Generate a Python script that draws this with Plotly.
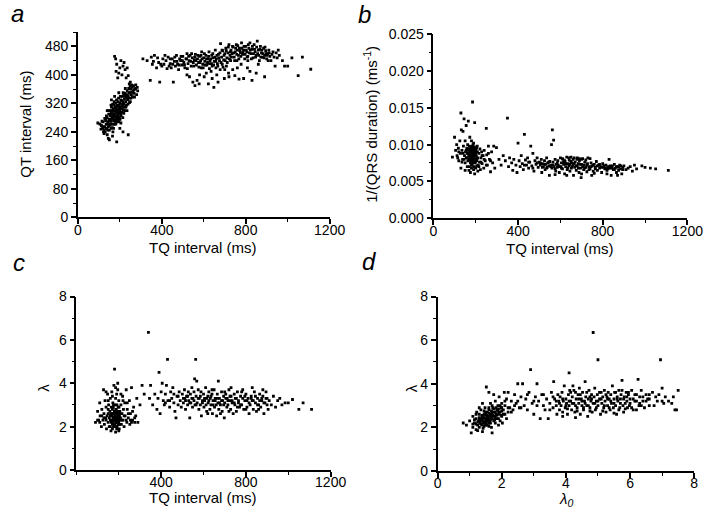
import plotly.graph_objects as go

# panel a: TQ interval (ms) vs QT interval (ms)
tq_qt_a = [
    (105, 262), (112, 258), (118, 250), (120, 268), (125, 245), (128, 255), (130, 240), (132, 272), (135, 262), (138, 250),
    (140, 232), (140, 280), (143, 268), (145, 255), (147, 290), (150, 245), (150, 275), (152, 262), (155, 300), (155, 285),
    (157, 270), (158, 250), (160, 292), (160, 310), (162, 278), (163, 262), (165, 298), (165, 285), (167, 240), (168, 305),
    (170, 272), (170, 290), (172, 315), (173, 282), (175, 298), (175, 262), (177, 308), (178, 288), (180, 275), (180, 320),
    (182, 295), (183, 305), (185, 282), (185, 268), (187, 312), (188, 298), (190, 288), (190, 325), (192, 302), (193, 275),
    (195, 315), (195, 292), (197, 305), (198, 282), (200, 322), (200, 298), (202, 310), (204, 290), (205, 330), (207, 305),
    (208, 318), (210, 295), (212, 340), (213, 312), (215, 325), (217, 302), (218, 345), (220, 318), (222, 332), (224, 310),
    (225, 348), (228, 325), (230, 338), (232, 315), (235, 355), (237, 330), (240, 342), (242, 362), (245, 335), (248, 350),
    (250, 325), (252, 360), (255, 345), (258, 365), (260, 338), (263, 355), (265, 370), (268, 348), (272, 360), (275, 362),
    (280, 345), (285, 355), (145, 222), (150, 218), (165, 228), (185, 212), (215, 240), (240, 232), (200, 250), (170, 250),
    (125, 235), (95, 265), (175, 452), (180, 445), (182, 410), (185, 430), (195, 405), (200, 420), (205, 440), (210, 400),
    (215, 425), (225, 415), (235, 420), (240, 398), (220, 435), (190, 392), (245, 375), (250, 380), (255, 372), (230, 392),
    (110, 248), (115, 270), (120, 255), (122, 240), (128, 278), (133, 250), (136, 285), (140, 262), (142, 245), (146, 300),
    (148, 272), (150, 258), (153, 290), (156, 262), (158, 315), (160, 275), (162, 300), (164, 252), (166, 318), (168, 280),
    (170, 262), (171, 300), (173, 325), (176, 285), (178, 270), (179, 310), (181, 262), (184, 330), (186, 295), (188, 275),
    (189, 315), (191, 280), (194, 335), (196, 268), (198, 310), (199, 292), (201, 275), (203, 340), (206, 285), (209, 328),
    (211, 305), (214, 280), (216, 350), (219, 292), (221, 340), (223, 300), (226, 362), (229, 310), (231, 345), (234, 300),
    (236, 335), (239, 318), (243, 350), (246, 322), (249, 368), (253, 335), (257, 352), (262, 368), (267, 358), (270, 338),
    (276, 372), (283, 365), (160, 330), (175, 340), (195, 350), (140, 300), (205, 265),
    (310, 445), (330, 440), (345, 385), (355, 430), (365, 455), (375, 420), (385, 435), (390, 380), (400, 425), (405, 445),
    (410, 430), (420, 440), (425, 418), (430, 450), (440, 432), (445, 420), (450, 445), (455, 380), (460, 438), (465, 425),
    (470, 455), (475, 430), (480, 415), (485, 445), (490, 440), (495, 428), (500, 452), (505, 435), (510, 420), (515, 445),
    (520, 460), (525, 432), (530, 440), (532, 395), (535, 455), (540, 425), (545, 448), (548, 380), (550, 435), (555, 442),
    (558, 370), (560, 458), (565, 428), (568, 385), (570, 445), (575, 435), (578, 375), (580, 452), (585, 440), (588, 420),
    (590, 465), (595, 430), (600, 448), (602, 395), (605, 438), (610, 455), (612, 405), (615, 428), (620, 445), (622, 375),
    (625, 465), (628, 432), (630, 440), (635, 410), (638, 455), (640, 425), (645, 448), (648, 365), (650, 438), (655, 470),
    (658, 420), (660, 445), (662, 400), (665, 432), (668, 380), (670, 458), (675, 440), (678, 415), (680, 488), (685, 450),
    (688, 430), (690, 468), (695, 442), (698, 390), (700, 460), (705, 475), (708, 425), (710, 448), (715, 462), (718, 405),
    (720, 485), (725, 455), (728, 440), (730, 470), (735, 460), (738, 415), (740, 478), (745, 450), (748, 398), (750, 465),
    (755, 485), (758, 440), (760, 470), (765, 455), (768, 388), (770, 475), (775, 462), (778, 430), (780, 490), (785, 458),
    (790, 470), (795, 445), (800, 480), (805, 465), (808, 420), (810, 452), (815, 475), (820, 490), (825, 460), (830, 472),
    (835, 448), (840, 485), (845, 465), (850, 455), (855, 495), (860, 470), (865, 440), (870, 480), (875, 462), (880, 450),
    (885, 475), (890, 455), (895, 468), (900, 445), (905, 460), (910, 470), (915, 452), (920, 440), (925, 458), (930, 465),
    (935, 450), (940, 425), (945, 462), (950, 448), (955, 470), (960, 455), (975, 440), (985, 425), (1000, 425), (1020, 448),
    (1050, 398), (1070, 450), (1110, 416), (890, 395), (830, 385), (850, 405), (790, 390),
    (440, 445), (452, 430), (462, 450), (472, 438), (482, 428), (492, 452), (498, 440), (508, 428), (518, 445), (522, 418),
    (528, 452), (538, 438), (542, 460), (552, 425), (557, 450), (562, 440), (572, 455), (577, 422), (582, 435), (587, 455),
    (592, 445), (597, 420), (603, 460), (607, 428), (613, 445), (618, 435), (623, 452), (627, 418), (633, 445), (637, 432),
    (643, 460), (647, 428), (653, 450), (657, 438), (663, 455), (667, 425), (672, 448), (677, 462), (682, 435), (687, 470),
    (692, 422), (697, 455), (702, 440), (707, 468), (712, 435), (717, 478), (722, 445), (727, 465), (732, 450), (737, 480),
    (742, 462), (747, 440), (752, 475), (757, 458), (762, 482), (767, 445), (772, 468), (777, 452), (782, 475), (787, 465),
    (792, 480), (797, 458), (802, 470), (807, 450), (812, 485), (817, 462), (822, 470), (827, 445), (832, 480), (837, 460),
    (842, 472), (847, 450), (852, 478), (857, 460), (862, 455), (867, 472), (872, 450), (877, 470), (882, 460), (887, 448),
    (892, 478), (897, 460), (902, 455), (907, 440), (912, 462), (350, 450), (360, 438), (380, 448), (395, 430), (415, 455),
    (435, 425), (520, 400), (580, 400), (640, 390), (700, 415), (720, 395), (760, 420), (810, 440), (820, 410), (860, 430),
]

# panel b: TQ interval (ms) vs 1/(QRS duration) (ms^-1)
tq_invqrs_b = [
    (90, 0.0083), (100, 0.0110), (105, 0.0092), (110, 0.0100), (112, 0.0085), (118, 0.0095), (120, 0.0078), (125, 0.0105),
    (128, 0.0088), (130, 0.0143), (132, 0.0120), (135, 0.0092), (138, 0.0080), (140, 0.0118), (142, 0.0098), (145, 0.0135),
    (147, 0.0085), (150, 0.0075), (150, 0.0105), (152, 0.0090), (155, 0.0082), (155, 0.0126), (158, 0.0095), (160, 0.0070),
    (160, 0.0088), (162, 0.0100), (163, 0.0078), (165, 0.0132), (165, 0.0092), (167, 0.0084), (168, 0.0065), (170, 0.0098),
    (170, 0.0080), (172, 0.0110), (173, 0.0090), (175, 0.0075), (175, 0.0086), (177, 0.0095), (178, 0.0082), (180, 0.0105),
    (180, 0.0072), (182, 0.0090), (183, 0.0080), (185, 0.0158), (185, 0.0098), (185, 0.0086), (187, 0.0076), (188, 0.0092),
    (190, 0.0083), (190, 0.0102), (192, 0.0070), (193, 0.0088), (195, 0.0080), (195, 0.0130), (197, 0.0095), (198, 0.0075),
    (200, 0.0085), (200, 0.0068), (202, 0.0092), (205, 0.0078), (207, 0.0098), (210, 0.0082), (212, 0.0072), (215, 0.0088),
    (218, 0.0076), (220, 0.0094), (222, 0.0066), (225, 0.0082), (228, 0.0090), (230, 0.0074), (235, 0.0085), (238, 0.0068),
    (240, 0.0092), (245, 0.0078), (250, 0.0122), (252, 0.0086), (255, 0.0072), (260, 0.0098), (265, 0.0080), (270, 0.0063),
    (275, 0.0090), (280, 0.0075), (285, 0.0098), (290, 0.0068), (298, 0.0096), (175, 0.0062), (195, 0.0060), (150, 0.0065),
    (210, 0.0064), (130, 0.0068),
    (165, 0.0088), (168, 0.0094), (170, 0.0086), (172, 0.0079), (174, 0.0092), (176, 0.0084), (178, 0.0097), (179, 0.0078),
    (181, 0.0088), (182, 0.0095), (184, 0.0082), (186, 0.0092), (187, 0.0100), (189, 0.0079), (190, 0.0087), (191, 0.0094),
    (192, 0.0083), (194, 0.0090), (196, 0.0085), (197, 0.0077), (199, 0.0093), (200, 0.0080), (201, 0.0088), (203, 0.0084),
    (204, 0.0096), (206, 0.0081), (208, 0.0090), (186, 0.0075), (176, 0.0080), (183, 0.0072), (170, 0.0093), (193, 0.0097),
    (180, 0.0091), (188, 0.0085), (198, 0.0088), (160, 0.0082), (155, 0.0092), (145, 0.0080), (140, 0.0088), (135, 0.0076),
    (120, 0.0090), (115, 0.0082), (230, 0.0085), (240, 0.0080), (250, 0.0072), (260, 0.0088), (270, 0.0078), (215, 0.0070),
    (225, 0.0076), (205, 0.0071), (190, 0.0066), (180, 0.0068), (170, 0.0070),
    (310, 0.0080), (320, 0.0072), (330, 0.0085), (340, 0.0078), (350, 0.0136), (355, 0.0070), (360, 0.0082), (370, 0.0075),
    (375, 0.0065), (380, 0.0080), (390, 0.0072), (395, 0.0062), (400, 0.0102), (405, 0.0078), (410, 0.0070), (415, 0.0085),
    (420, 0.0074), (425, 0.0066), (430, 0.0114), (435, 0.0079), (440, 0.0072), (445, 0.0082), (450, 0.0068), (455, 0.0076),
    (460, 0.0098), (465, 0.0071), (470, 0.0088), (475, 0.0064), (480, 0.0078), (485, 0.0073), (490, 0.0082), (495, 0.0069),
    (500, 0.0076), (505, 0.0072), (510, 0.0080), (512, 0.0062), (515, 0.0074), (520, 0.0070), (525, 0.0078), (528, 0.0066),
    (530, 0.0073), (535, 0.0082), (538, 0.0069), (540, 0.0075), (545, 0.0071), (548, 0.0058), (550, 0.0077), (555, 0.0072),
    (558, 0.0100), (560, 0.0068), (562, 0.0120), (565, 0.0076), (568, 0.0106), (570, 0.0070), (575, 0.0080), (578, 0.0064),
    (580, 0.0073), (585, 0.0069), (588, 0.0078), (590, 0.0072), (595, 0.0062), (600, 0.0082), (602, 0.0070), (605, 0.0075),
    (610, 0.0067), (612, 0.0080), (615, 0.0073), (620, 0.0060), (622, 0.0077), (625, 0.0070), (630, 0.0083), (632, 0.0066),
    (635, 0.0074), (640, 0.0071), (642, 0.0079), (645, 0.0064), (650, 0.0083), (652, 0.0068), (655, 0.0075), (660, 0.0072),
    (662, 0.0058), (665, 0.0082), (668, 0.0069), (670, 0.0076), (675, 0.0065), (678, 0.0080), (680, 0.0071), (685, 0.0074),
    (688, 0.0062), (690, 0.0078), (695, 0.0068), (698, 0.0055), (700, 0.0073), (705, 0.0081), (710, 0.0066), (712, 0.0072),
    (715, 0.0076), (720, 0.0069), (725, 0.0063), (728, 0.0074), (730, 0.0082), (735, 0.0070), (740, 0.0067), (745, 0.0075),
    (748, 0.0058), (750, 0.0071), (755, 0.0064), (760, 0.0073), (765, 0.0069), (770, 0.0077), (775, 0.0065), (780, 0.0072),
    (785, 0.0068), (790, 0.0070), (795, 0.0062), (800, 0.0074), (805, 0.0069), (810, 0.0067), (815, 0.0072), (820, 0.0065),
    (825, 0.0070), (830, 0.0080), (835, 0.0068), (840, 0.0058), (845, 0.0071), (850, 0.0066), (855, 0.0073), (860, 0.0068),
    (865, 0.0062), (870, 0.0070), (875, 0.0065), (880, 0.0072), (885, 0.0067), (890, 0.0060), (895, 0.0069), (900, 0.0071),
    (910, 0.0066), (920, 0.0068), (930, 0.0070), (940, 0.0064), (950, 0.0072), (960, 0.0067), (985, 0.0071), (1000, 0.0069),
    (1025, 0.0068), (1050, 0.0067), (1110, 0.0065), (620, 0.0078), (650, 0.0077), (680, 0.0082), (700, 0.0080),
    (505, 0.0075), (515, 0.0069), (525, 0.0073), (535, 0.0068), (545, 0.0076), (555, 0.0070), (565, 0.0072), (575, 0.0067),
    (585, 0.0075), (595, 0.0070), (605, 0.0068), (615, 0.0076), (625, 0.0074), (635, 0.0068), (645, 0.0073), (655, 0.0070),
    (665, 0.0074), (675, 0.0071), (685, 0.0068), (695, 0.0073), (705, 0.0070), (715, 0.0068), (725, 0.0072), (735, 0.0066),
    (745, 0.0070), (755, 0.0072), (765, 0.0067), (775, 0.0071), (785, 0.0073), (795, 0.0069), (805, 0.0071), (815, 0.0068),
    (825, 0.0067), (835, 0.0071), (845, 0.0068), (855, 0.0066), (865, 0.0070), (875, 0.0069), (885, 0.0071), (895, 0.0066),
    (640, 0.0082), (660, 0.0080), (610, 0.0081), (690, 0.0081), (720, 0.0079), (740, 0.0081), (575, 0.0059), (630, 0.0058),
    (700, 0.0060), (760, 0.0061), (820, 0.0060), (870, 0.0058), (430, 0.0072), (450, 0.0076), (470, 0.0068), (490, 0.0075),
]

# panel c: TQ interval (ms) vs lambda
tq_lam_c = [
    (90, 2.2), (100, 2.7), (105, 2.3), (110, 3.1), (112, 2.5), (118, 2.0), (120, 2.8), (125, 2.3), (128, 3.7), (130, 2.6),
    (132, 2.1), (135, 3.2), (138, 2.4), (140, 2.9), (142, 1.9), (145, 2.5), (147, 3.5), (150, 2.2), (150, 2.8), (152, 3.0),
    (155, 2.4), (155, 2.0), (158, 2.7), (160, 3.3), (160, 2.3), (162, 2.6), (163, 1.8), (165, 2.9), (165, 2.2), (167, 3.6),
    (168, 2.5), (170, 2.1), (170, 2.8), (172, 3.1), (173, 2.4), (175, 2.0), (175, 2.6), (177, 3.9), (178, 2.3), (180, 2.7),
    (180, 4.65), (180, 2.1), (182, 3.0), (183, 2.4), (185, 1.75), (185, 2.6), (185, 3.3), (187, 2.2), (188, 2.8), (190, 2.4),
    (190, 3.5), (192, 2.0), (193, 2.7), (195, 2.3), (195, 4.0), (197, 2.9), (198, 2.1), (200, 2.5), (200, 3.2), (202, 1.9),
    (205, 2.7), (207, 2.3), (210, 3.0), (212, 2.1), (215, 2.6), (218, 3.4), (220, 2.3), (222, 2.8), (225, 2.0), (228, 3.1),
    (230, 2.5), (235, 3.7), (238, 2.2), (240, 2.8), (245, 2.4), (250, 3.2), (252, 2.1), (255, 2.6), (260, 3.8), (265, 2.3),
    (270, 2.9), (275, 2.2), (280, 2.5), (285, 3.3), (290, 2.2), (300, 3.0), (310, 3.9), (195, 3.7), (175, 3.0), (160, 2.0),
    (168, 2.3), (170, 2.6), (172, 2.2), (174, 2.9), (176, 2.4), (178, 2.1), (179, 2.7), (181, 2.3), (182, 2.5), (184, 2.0),
    (186, 2.8), (187, 2.4), (189, 2.2), (190, 2.6), (191, 3.0), (192, 2.3), (194, 2.5), (196, 2.1), (197, 2.7), (199, 2.4),
    (200, 2.2), (201, 2.9), (203, 2.5), (204, 2.1), (206, 2.6), (208, 2.4), (185, 2.35), (175, 2.25), (195, 2.65), (180, 2.45),
    (190, 1.9), (200, 1.8), (170, 1.9), (160, 2.5), (150, 2.6), (140, 2.3), (130, 2.4), (120, 2.5), (110, 2.2), (100, 2.3),
    (215, 2.3), (225, 2.5), (235, 2.3), (245, 2.6), (255, 2.3), (265, 2.7), (275, 2.4), (260, 2.2), (240, 3.1), (220, 3.2),
    (210, 3.5), (185, 3.8), (170, 3.4), (150, 3.2), (140, 3.6),
    (320, 3.5), (340, 6.35), (345, 3.3), (350, 3.9), (360, 3.0), (370, 3.5), (380, 2.8), (385, 3.3), (390, 4.5), (395, 2.6),
    (400, 3.6), (405, 4.0), (410, 3.2), (415, 3.0), (420, 3.5), (425, 3.9), (430, 5.1), (432, 3.2), (440, 2.9), (445, 3.6),
    (450, 3.3), (455, 3.8), (460, 3.1), (465, 2.7), (470, 2.4), (475, 3.4), (480, 3.0), (485, 3.6), (490, 3.2), (495, 2.9),
    (500, 3.5), (505, 3.1), (510, 3.7), (512, 3.3), (515, 2.8), (520, 3.4), (525, 3.0), (528, 3.6), (530, 3.2), (535, 2.4),
    (538, 3.5), (540, 3.1), (545, 3.8), (548, 2.9), (550, 3.3), (555, 3.6), (558, 4.2), (560, 3.0), (563, 5.1), (565, 3.4),
    (568, 4.1), (570, 3.1), (575, 3.7), (578, 2.8), (580, 3.3), (585, 3.0), (588, 3.6), (590, 2.5), (595, 3.2), (600, 3.5),
    (602, 2.9), (605, 3.3), (610, 3.8), (612, 3.0), (615, 2.7), (620, 3.4), (622, 3.1), (625, 3.6), (630, 2.8), (632, 3.3),
    (635, 3.0), (640, 3.5), (642, 2.6), (645, 3.2), (650, 3.7), (652, 2.9), (655, 3.3), (660, 3.0), (662, 2.5), (665, 3.5),
    (668, 3.1), (670, 4.1), (672, 2.8), (675, 3.3), (680, 3.0), (685, 3.6), (688, 2.7), (690, 3.2), (695, 3.4), (698, 2.4),
    (700, 3.1), (705, 3.5), (710, 2.9), (712, 3.3), (715, 3.0), (720, 3.7), (725, 3.2), (728, 2.8), (730, 3.4), (735, 3.1),
    (740, 2.6), (745, 3.5), (748, 3.0), (750, 3.3), (755, 2.7), (760, 3.6), (765, 3.1), (770, 2.9), (775, 3.4), (780, 3.0),
    (785, 3.7), (790, 2.8), (795, 3.2), (800, 3.5), (805, 2.9), (810, 3.3), (815, 2.6), (820, 3.0), (825, 3.4), (830, 3.2),
    (835, 2.8), (840, 3.6), (845, 3.1), (850, 2.7), (855, 3.3), (860, 3.0), (865, 3.5), (870, 2.9), (875, 3.2), (880, 3.4),
    (885, 2.6), (890, 3.1), (895, 3.6), (900, 3.3), (905, 2.8), (910, 3.2), (920, 3.0), (930, 3.4), (940, 2.9), (950, 3.2),
    (960, 3.3), (970, 3.0), (985, 3.1), (1000, 3.1), (1020, 3.25), (1050, 2.8), (1070, 3.1), (1110, 2.8),
    (505, 3.3), (515, 3.2), (525, 3.4), (535, 3.1), (545, 3.3), (555, 3.2), (565, 3.0), (575, 3.3), (585, 3.4), (595, 3.1),
    (605, 3.2), (615, 3.3), (625, 3.2), (635, 3.4), (645, 3.0), (655, 3.2), (665, 3.3), (675, 3.1), (685, 3.2), (695, 3.0),
    (705, 3.3), (715, 3.2), (725, 3.4), (735, 3.2), (745, 3.1), (755, 3.3), (765, 3.2), (775, 3.0), (785, 3.3), (795, 3.4),
    (805, 3.2), (815, 3.1), (825, 3.3), (835, 3.2), (845, 3.4), (855, 3.0), (865, 3.2), (875, 3.3), (885, 3.1), (895, 3.3),
    (620, 2.6), (680, 2.6), (720, 2.7), (760, 2.9), (800, 2.8), (860, 2.8), (900, 3.0), (640, 3.7), (700, 3.6), (730, 3.8),
    (780, 3.6), (830, 3.8), (880, 3.7), (480, 3.4), (460, 3.5), (440, 3.2), (420, 3.1),
]

# panel d: lambda_0 vs lambda
lam0_lam_d = [
    (0.8, 2.2), (0.9, 2.1), (1.0, 2.3), (1.05, 1.75), (1.1, 2.0), (1.1, 2.5), (1.15, 2.2), (1.2, 1.9), (1.2, 2.4), (1.22, 2.7),
    (1.25, 2.1), (1.28, 2.3), (1.3, 2.6), (1.3, 2.0), (1.32, 2.2), (1.35, 2.4), (1.35, 2.8), (1.38, 2.1), (1.4, 2.5), (1.4, 2.3),
    (1.42, 1.95), (1.45, 2.6), (1.45, 2.2), (1.48, 2.9), (1.5, 2.4), (1.5, 2.1), (1.52, 3.85), (1.55, 2.7), (1.55, 2.3), (1.58, 2.5),
    (1.6, 2.2), (1.6, 2.8), (1.62, 2.4), (1.65, 3.1), (1.65, 2.6), (1.68, 2.0), (1.7, 2.5), (1.7, 1.75), (1.72, 2.9), (1.75, 2.3),
    (1.75, 2.7), (1.78, 2.5), (1.8, 3.2), (1.8, 2.2), (1.82, 2.6), (1.85, 2.8), (1.85, 2.4), (1.88, 3.0), (1.9, 2.6), (1.9, 2.1),
    (1.92, 3.4), (1.95, 2.7), (1.95, 2.3), (1.98, 2.9), (2.0, 2.5), (2.0, 3.1), (2.02, 2.2), (2.05, 2.8), (2.08, 3.6), (2.1, 2.6),
    (2.1, 3.0), (2.15, 2.4), (2.15, 3.3), (2.2, 2.7), (2.2, 3.6), (2.25, 2.9), (2.3, 3.2), (1.6, 3.6), (1.75, 3.5), (1.4, 3.1),
    (1.3, 2.9), (1.2, 2.6), (1.45, 2.75), (1.55, 2.45), (1.65, 2.35), (1.7, 2.65), (1.8, 2.45), (1.35, 2.15), (1.5, 2.55), (1.6, 2.05),
    (1.4, 1.8), (1.25, 1.85), (1.9, 2.85), (2.0, 2.75),
    (1.25, 2.25), (1.3, 2.35), (1.35, 2.3), (1.4, 2.4), (1.42, 2.2), (1.45, 2.45), (1.48, 2.3), (1.5, 2.6), (1.52, 2.2), (1.55, 2.55),
    (1.58, 2.35), (1.6, 2.65), (1.62, 2.3), (1.65, 2.5), (1.68, 2.75), (1.7, 2.4), (1.72, 2.55), (1.75, 2.85), (1.78, 2.35), (1.8, 2.7),
    (1.82, 2.9), (1.85, 2.55), (1.88, 2.75), (1.9, 2.4), (1.92, 2.65), (1.95, 3.0), (1.98, 2.55), (2.0, 2.9), (2.05, 2.6), (1.15, 2.35),
    (1.1, 2.15), (1.2, 2.15), (1.3, 2.45), (1.38, 2.55), (1.5, 2.7), (1.6, 2.9), (1.7, 3.0), (1.45, 2.05), (1.55, 2.1), (1.65, 2.2),
    (2.1, 3.2), (2.2, 2.9), (2.3, 2.7), (2.4, 3.0), (2.5, 3.2), (2.6, 2.9),
    (2.35, 2.8), (2.4, 3.5), (2.45, 3.1), (2.5, 4.0), (2.55, 2.9), (2.6, 3.4), (2.65, 4.0), (2.7, 3.0), (2.75, 3.3), (2.8, 2.8),
    (2.85, 3.6), (2.9, 4.65), (2.95, 3.1), (3.0, 2.6), (3.05, 3.4), (3.1, 4.0), (3.1, 3.0), (3.15, 3.2), (3.2, 2.4), (3.25, 3.5),
    (3.3, 3.0), (3.35, 2.8), (3.4, 3.3), (3.45, 2.4), (3.5, 3.1), (3.55, 3.6), (3.6, 2.9), (3.62, 4.1), (3.65, 3.3), (3.7, 3.0),
    (3.72, 2.6), (3.75, 3.5), (3.78, 3.2), (3.8, 2.8), (3.82, 3.4), (3.85, 3.0), (3.88, 3.6), (3.9, 2.7), (3.92, 3.2), (3.95, 3.9),
    (3.98, 2.9), (4.0, 3.3), (4.02, 3.1), (4.05, 2.6), (4.08, 3.5), (4.1, 4.5), (4.1, 3.0), (4.12, 3.7), (4.15, 3.2), (4.18, 2.8),
    (4.2, 3.4), (4.22, 3.9), (4.25, 3.1), (4.28, 2.7), (4.3, 3.6), (4.32, 3.3), (4.35, 2.9), (4.38, 3.5), (4.4, 3.1), (4.42, 3.8),
    (4.45, 2.6), (4.48, 3.3), (4.5, 3.0), (4.52, 3.6), (4.55, 2.8), (4.58, 3.2), (4.6, 4.1), (4.62, 3.4), (4.65, 3.0), (4.68, 2.5),
    (4.7, 3.3), (4.72, 3.7), (4.75, 2.9), (4.78, 3.2), (4.8, 3.5), (4.82, 2.7), (4.85, 6.35), (4.85, 3.1), (4.88, 3.4), (4.9, 3.8),
    (4.92, 2.8), (4.95, 3.2), (4.98, 3.5), (5.0, 5.1), (5.0, 3.0), (5.05, 3.3), (5.08, 2.6), (5.1, 3.6), (5.12, 3.1), (5.15, 3.4),
    (5.18, 2.9), (5.2, 3.7), (5.22, 3.2), (5.25, 2.7), (5.28, 3.4), (5.3, 3.0), (5.32, 3.6), (5.35, 3.3), (5.38, 2.8), (5.4, 3.5),
    (5.42, 3.1), (5.45, 3.9), (5.48, 2.9), (5.5, 3.3), (5.52, 3.6), (5.55, 3.0), (5.58, 2.6), (5.6, 3.4), (5.62, 3.2), (5.65, 3.7),
    (5.68, 2.9), (5.7, 3.3), (5.72, 3.5), (5.75, 4.15), (5.78, 3.0), (5.8, 2.7), (5.82, 3.4), (5.85, 3.1), (5.88, 3.6), (5.9, 3.2),
    (5.92, 2.9), (5.95, 3.5), (5.98, 3.0), (6.0, 3.3), (6.05, 3.7), (6.1, 2.8), (6.15, 3.2), (6.2, 3.5), (6.25, 4.2), (6.28, 3.0),
    (6.3, 3.4), (6.35, 3.7), (6.4, 3.2), (6.45, 2.9), (6.5, 3.5), (6.55, 3.3), (6.6, 3.0), (6.7, 3.6), (6.8, 3.4), (6.85, 3.2),
    (6.9, 3.5), (6.95, 5.1), (7.0, 3.8), (7.05, 3.1), (7.1, 3.4), (7.2, 3.2), (7.3, 3.1), (7.35, 3.4), (7.4, 2.8), (7.45, 2.8),
    (7.5, 3.7), (6.2, 2.8), (5.5, 2.65), (4.3, 2.45), (3.9, 2.5),
    (3.7, 3.2), (3.8, 3.1), (3.9, 3.3), (4.0, 3.0), (4.1, 3.2), (4.2, 3.1), (4.3, 3.0), (4.4, 3.3), (4.5, 3.2), (4.6, 3.1),
    (4.7, 3.0), (4.8, 3.3), (4.9, 3.1), (5.0, 3.2), (5.1, 3.3), (5.2, 3.0), (5.3, 3.3), (5.4, 3.2), (5.5, 3.1), (5.6, 3.3),
    (5.7, 3.1), (5.8, 3.3), (5.9, 3.4), (6.0, 3.1), (6.1, 3.3), (6.2, 3.2), (6.3, 3.1), (6.4, 3.4), (6.5, 3.2), (6.6, 3.3),
    (4.15, 3.6), (4.25, 3.7), (4.45, 3.5), (4.65, 3.6), (4.75, 3.4), (5.05, 3.6), (5.25, 3.5), (5.55, 3.6), (5.75, 3.7), (5.95, 3.6),
    (6.15, 3.5), (4.05, 2.85), (4.35, 2.75), (4.55, 2.9), (4.75, 2.75), (4.95, 2.9), (5.15, 2.75), (5.35, 2.9), (5.65, 2.8), (5.85, 2.85),
    (6.05, 2.9), (6.35, 3.0), (6.6, 3.5), (6.75, 3.0), (7.0, 3.2), (3.6, 3.4), (3.5, 2.8), (3.3, 3.5), (3.0, 3.2), (2.8, 3.5),
]

FONT = "Arial, Liberation Sans, sans-serif"
W, H = 717, 519


def px_x(x):
    return x / W


def px_y(y):
    return 1 - y / H


def axis(domain, rng, dtick, minor_dtick, anchor, **kw):
    d = dict(
        domain=domain, range=rng, anchor=anchor, dtick=dtick, tick0=0,
        showline=True, linecolor="black", linewidth=1.6, mirror=False,
        ticks="outside", ticklen=5, tickwidth=1.5, tickcolor="black",
        showgrid=False, zeroline=False,
        tickfont=dict(family=FONT, size=14, color="black"),
        minor=dict(ticks="outside", ticklen=3, tickwidth=1.2, tickcolor="black", dtick=minor_dtick, tick0=0, showgrid=False),
    )
    d.update(kw)
    return d


fig = go.Figure()
panels = [
    (tq_qt_a, "x", "y"),
    (tq_invqrs_b, "x2", "y2"),
    (tq_lam_c, "x3", "y3"),
    (lam0_lam_d, "x4", "y4"),
]
for pts, xa, ya in panels:
    xs, ys = zip(*pts)
    fig.add_trace(go.Scatter(
        x=xs, y=ys, mode="markers", xaxis=xa, yaxis=ya, showlegend=False,
        marker=dict(color="black", size=2.8, symbol="square", line=dict(width=0)),
    ))

fig.update_layout(
    width=W, height=H,
    margin=dict(l=0, r=0, t=0, b=0),
    paper_bgcolor="white", plot_bgcolor="white",
    font=dict(family=FONT, color="black"),
    xaxis=axis([px_x(76), px_x(335)], [0, 1200], 400, 200, "y", ticklabelstandoff=-6),
    yaxis=axis([px_y(216), px_y(25)], [0, 520], 80, 40, "x", tickmode="array",
               tickvals=[0, 80, 160, 240, 320, 400, 480]),
    xaxis2=axis([px_x(441.7), px_x(703)], [0, 1200], 400, 200, "y2", ticklabelstandoff=-6),
    yaxis2=axis([px_y(216.7), px_y(27.3)], [0, 0.025], 0.005, 0.0025, "x2", tickformat=".3f"),
    xaxis3=axis([px_x(74.5), px_x(336)], [0, 1200], 400, 200, "y3", tickmode="array", tickvals=[400, 800, 1200],
                ticklabelstandoff=-7),
    yaxis3=axis([px_y(476.7), px_y(297.7)], [0, 8], 2, 1, "x3"),
    xaxis4=axis([px_x(446), px_x(710)], [0, 8], 2, 1, "y4", ticklabelstandoff=-7),
    yaxis4=axis([px_y(477.7), px_y(297.7)], [0, 8], 2, 1, "x4"),
)

title_font = dict(family=FONT, size=15, color="black")
label_font = dict(family=FONT, size=24, color="black")
annotations = [
    ("<i>a</i>", 14, 6, 0, label_font),
    ("<i>b</i>", 371, 7, 0, label_font),
    ("<i>c</i>", 15, 263, 0, label_font),
    ("<i>d</i>", 375, 262, 0, label_font),
    ("TQ interval (ms)", 205, 247, 0, title_font),
    ("QT interval (ms)", 22, 120, -90, title_font),
    ("TQ interval (ms)", 572, 248, 0, title_font),
    ("1/(QRS duration) (ms<sup>-1</sup>)", 377, 120, -90, title_font),
    ("TQ interval (ms)", 205, 505, 0, title_font),
    ("λ", 41, 392, -90, title_font),
    ("<i>λ<sub>0</sub></i>", 578, 507, 0, title_font),
    ("λ", 420, 392, -90, title_font),
]
for text, x, y, angle, font in annotations:
    fig.add_annotation(
        text=text, x=px_x(x), y=px_y(y), xref="paper", yref="paper",
        showarrow=False, textangle=angle, font=font, xanchor="center", yanchor="middle",
    )

# drop the page's default body margin so the figure sits at the window's corner
fig.write_html(
    "out.html",
    config={"displayModeBar": False},
    post_script="document.body.style.margin = '0';",
)
